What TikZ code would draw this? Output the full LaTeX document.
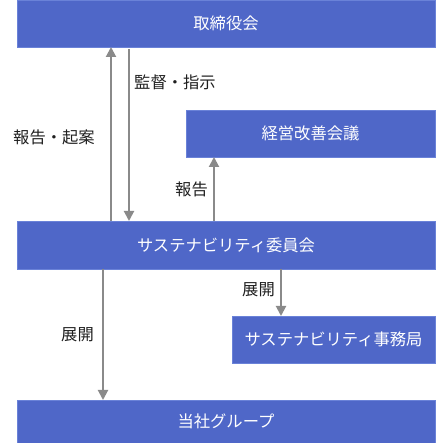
\documentclass[tikz,border=0pt]{standalone}
\usepackage{fontspec}
\setmainfont{Noto Sans CJK JP}
\usetikzlibrary{arrows.meta}
\definecolor{boxblue}{HTML}{4F67C8}
\definecolor{boxedge}{HTML}{6A82D8}
\definecolor{arrgray}{HTML}{8A8A8A}
\tikzset{
  bluebox/.style={fill=boxblue,draw=boxedge,line width=0.8pt},
  boxtext/.style={text=white,font=\fontsize{16.3}{19}\selectfont,inner sep=0pt},
  lbl/.style={text=black!88,font=\fontsize{16.3}{19}\selectfont,inner sep=0pt},
  arr/.style={draw=arrgray,line width=2pt,-{Triangle[length=10pt,width=10pt]}}
}
\begin{document}
\begin{tikzpicture}[x=1pt,y=1pt]
\useasboundingbox (0,0) rectangle (436,443);
% boxes (y = 443 - pixel y)
\path[bluebox] (17,396) rectangle (435,443);
\node[boxtext] (board) at (226,419.5) {取締役会};
\path[bluebox] (186,286) rectangle (435,333);
\node[boxtext] (mgmt) at (310.5,309.5) {経営改善会議};
\path[bluebox] (17,174) rectangle (435,222);
\node[boxtext] (comm) at (226,198) {サステナビリティ委員会};
\path[bluebox] (232,80) rectangle (435,127);
\node[boxtext] (office) at (333.5,103.5) {サステナビリティ事務局};
\path[bluebox] (17,-1) rectangle (435,43);
\node[boxtext] (group) at (226,21.5) {当社グループ};
% connector end points
\coordinate (a1s) at (111,222);
\coordinate (a1e) at (111,396);
\coordinate (a2s) at (129,394);
\coordinate (a2e) at (129,222);
\coordinate (a3s) at (214,222);
\coordinate (a3e) at (214,286);
\coordinate (a4s) at (281,174);
\coordinate (a4e) at (281,127);
\coordinate (a5s) at (103,174);
\coordinate (a5e) at (103,43);
\draw[arr] (a1s) -- (a1e);
\draw[arr] (a2s) -- (a2e);
\draw[arr] (a3s) -- (a3e);
\draw[arr] (a4s) -- (a4e);
\draw[arr] (a5s) -- (a5e);
% labels
\node[lbl,anchor=west] (l1) at (134,361) {監督・指示};
\node[lbl,anchor=west] (l2) at (13,306) {報告・起案};
\node[lbl,anchor=west] (l3) at (175,254) {報告};
\node[lbl,anchor=west] (l4) at (242,153) {展開};
\node[lbl,anchor=west] (l5) at (61,108) {展開};
\end{tikzpicture}
\end{document}
